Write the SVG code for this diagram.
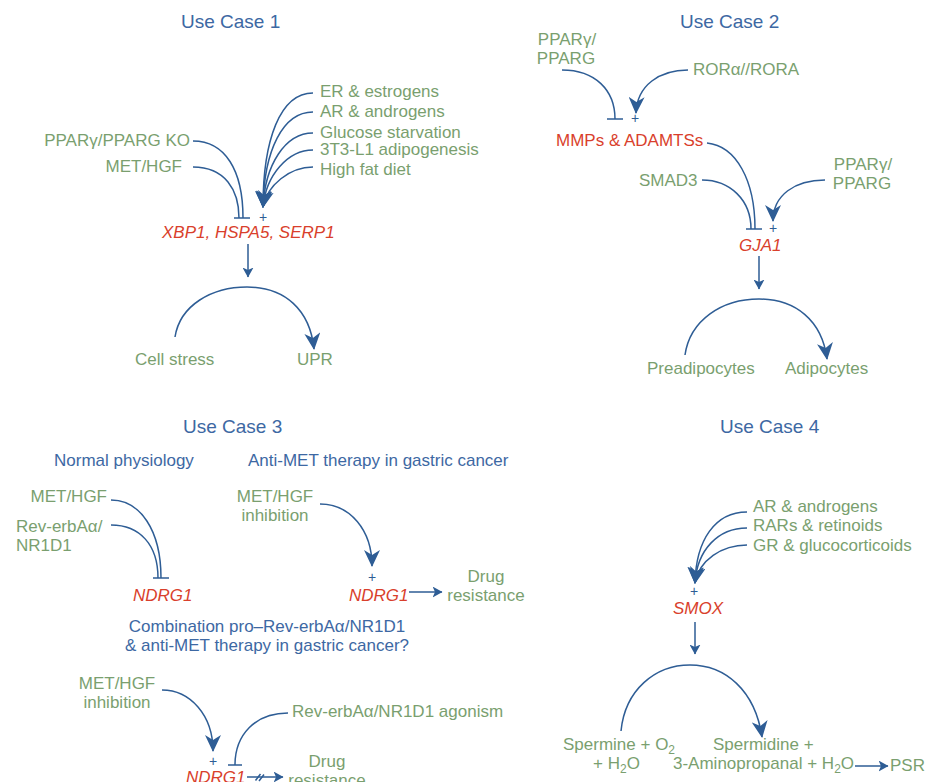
<svg xmlns="http://www.w3.org/2000/svg" width="928" height="782" viewBox="0 0 928 782">
<defs>
<style>
text{font-family:"Liberation Sans",Arial,sans-serif;font-size:17px}
.t{fill:#3d68a3;font-size:19px}
.h{fill:#3d68a3}
.g{fill:#7a9f6f}
.r{fill:#d93f2c}
.i{font-style:italic}
.e{text-anchor:end}
.m{text-anchor:middle}
.p{fill:#2e5d95;font-size:14px;text-anchor:middle}
.c{fill:none;stroke:#2e5d95;stroke-width:1.5}
.big{marker-end:url(#ab)}
.sm{marker-end:url(#as)}
</style>
<marker id="ab" viewBox="0 0 17 16" refX="16" refY="8" markerWidth="17" markerHeight="16" markerUnits="userSpaceOnUse" orient="auto">
<path d="M0,0 L17,8 L0,16 L5,8 Z" fill="#2e5d95"/>
</marker>
<marker id="as" viewBox="0 0 10 11" refX="9.5" refY="5.5" markerWidth="10" markerHeight="11" markerUnits="userSpaceOnUse" orient="auto">
<path d="M0,0 L10,5.5 L0,11 L2.5,5.5 Z" fill="#2e5d95"/>
</marker>
</defs>
<rect width="928" height="782" fill="#ffffff"/>

<g id="titles">
<text class="t" x="181" y="28">Use Case 1</text>
<text class="t" x="680" y="28">Use Case 2</text>
<text class="t" x="183" y="433">Use Case 3</text>
<text class="t" x="720" y="433">Use Case 4</text>
<text class="h" x="54" y="466">Normal physiology</text>
<text class="h" x="248" y="466">Anti-MET therapy in gastric cancer</text>
<text class="h m" x="267" y="632">Combination pro–Rev-erbAα/NR1D1</text>
<text class="h m" x="267" y="651">&amp; anti-MET therapy in gastric cancer?</text>
</g>

<g id="connectors">
<!-- Use case 1 -->
<path class="c big" d="M313,93 C280,93 263,140 263,207"/>
<path class="c big" d="M313,112 C283,112 264,150 263,207"/>
<path class="c big" d="M313,133 C285,133 265,165 263,207"/>
<path class="c big" d="M313,150 C288,150 266,175 263,207"/>
<path class="c big" d="M313,167 C290,167 267,185 263,207"/>
<path class="c" d="M193,141 C225,141 243,170 243,218"/>
<path class="c" d="M193,167 C225,167 239,190 239,218"/>
<path class="c" d="M234,218 L250,218"/>
<text class="p" x="263" y="222">+</text>
<path class="c sm" d="M248,244 L248,277"/>
<path class="c big" d="M175,337 C180,305 212,287 247,287 C285,287 310,310 314,349"/>
<!-- Use case 2 -->
<path class="c" d="M562,70 C595,70 615,90 615,119"/>
<path class="c" d="M607,119 L623,119"/>
<path class="c big" d="M688,70 C660,70 637,85 636,113"/>
<text class="p" x="635" y="123">+</text>
<path class="c" d="M707,143 C736,146 755,180 755,229"/>
<path class="c" d="M702,180 C730,180 751,200 751,229"/>
<path class="c" d="M746,229 L762,229"/>
<path class="c big" d="M825,180 C795,180 773,195 773,221"/>
<text class="p" x="773" y="233">+</text>
<path class="c sm" d="M759,256 L759,289"/>
<path class="c big" d="M685,355 C690,320 722,299 759,299 C795,299 822,320 827,359"/>
<!-- Use case 3 -->
<path class="c" d="M111,500 C140,500 161,530 161,578"/>
<path class="c" d="M111,525 C140,525 158,545 158,578"/>
<path class="c" d="M153,578 L169,578"/>
<path class="c big" d="M320,504 C350,504 372,530 372,566"/>
<text class="p" x="372" y="582">+</text>
<path class="c sm" d="M409,592 L442,592"/>
<path class="c big" d="M162,690 C190,690 213,715 213,751"/>
<text class="p" x="213" y="766">+</text>
<path class="c" d="M288,713 C255,713 235,735 235,765"/>
<path class="c" d="M228,765 L242,765"/>
<path class="c sm" d="M247,777 L283,777"/>
<path class="c" d="M255.5,780.5 L260.5,774 M259,781 L264,774.5" stroke-width="1.2"/>
<!-- Use case 4 -->
<path class="c big" d="M747,512 C715,512 696,540 695,583"/>
<path class="c big" d="M747,528 C718,528 697,550 695,583"/>
<path class="c big" d="M747,545 C722,545 699,560 695,583"/>
<text class="p" x="694" y="596">+</text>
<path class="c sm" d="M695,622 L695,654"/>
<path class="c big" d="M621,731 C625,690 655,665 690,665 C725,665 755,690 762,737"/>
<path class="c sm" d="M855,766 L888,766"/>
</g>

<!-- Use Case 1 nodes -->
<g id="uc1-er"><text class="g" x="320" y="97">ER &amp; estrogens</text></g>
<g id="uc1-ar"><text class="g" x="320" y="117">AR &amp; androgens</text></g>
<g id="uc1-glucose"><text class="g" x="320" y="138">Glucose starvation</text></g>
<g id="uc1-3t3"><text class="g" x="320" y="155">3T3-L1 adipogenesis</text></g>
<g id="uc1-hfd"><text class="g" x="320" y="175">High fat diet</text></g>
<g id="uc1-pparg"><text class="g e" x="190" y="146">PPARγ/PPARG KO</text></g>
<g id="uc1-met"><text class="g e" x="182" y="172">MET/HGF</text></g>
<g id="uc1-genes"><text class="r i" x="162" y="238">XBP1, HSPA5, SERP1</text></g>
<g id="uc1-cellstress"><text class="g" x="135" y="365">Cell stress</text></g>
<g id="uc1-upr"><text class="g" x="297" y="365">UPR</text></g>

<!-- Use Case 2 nodes -->
<g id="uc2-pparg1"><text class="g m" x="567" y="45">PPARγ/</text><text class="g m" x="566" y="64">PPARG</text></g>
<g id="uc2-rora"><text class="g" x="693" y="75">RORα//RORA</text></g>
<g id="uc2-mmps"><text class="r" x="556" y="146">MMPs &amp; ADAMTSs</text></g>
<g id="uc2-smad3"><text class="g" x="639" y="186">SMAD3</text></g>
<g id="uc2-pparg2"><text class="g m" x="863" y="170">PPARγ/</text><text class="g m" x="862" y="189">PPARG</text></g>
<g id="uc2-gja1"><text class="r i" x="739" y="251">GJA1</text></g>
<g id="uc2-pread"><text class="g" x="647" y="374">Preadipocytes</text></g>
<g id="uc2-adip"><text class="g" x="785" y="374">Adipocytes</text></g>

<!-- Use Case 3 nodes -->
<g id="uc3-met"><text class="g e" x="107" y="502">MET/HGF</text></g>
<g id="uc3-reverb"><text class="g" x="16" y="532">Rev-erbAα/</text><text class="g" x="16" y="551">NR1D1</text></g>
<g id="uc3-ndrg1a"><text class="r i" x="133" y="601">NDRG1</text></g>
<g id="uc3-metinh"><text class="g m" x="275" y="502">MET/HGF</text><text class="g m" x="275" y="521">inhibition</text></g>
<g id="uc3-ndrg1b"><text class="r i" x="349" y="601">NDRG1</text></g>
<g id="uc3-drug1"><text class="g m" x="486" y="582">Drug</text><text class="g m" x="486" y="601">resistance</text></g>
<g id="uc3-metinh2"><text class="g m" x="117" y="689">MET/HGF</text><text class="g m" x="117" y="708">inhibition</text></g>
<g id="uc3-agonism"><text class="g" x="292" y="717">Rev-erbAα/NR1D1 agonism</text></g>
<g id="uc3-ndrg1c"><text class="r i" x="186" y="783">NDRG1</text></g>
<g id="uc3-drug2"><text class="g m" x="327" y="767">Drug</text><text class="g m" x="327" y="786">resistance</text></g>

<!-- Use Case 4 nodes -->
<g id="uc4-ar"><text class="g" x="753" y="512">AR &amp; androgens</text></g>
<g id="uc4-rar"><text class="g" x="753" y="531">RARs &amp; retinoids</text></g>
<g id="uc4-gr"><text class="g" x="753" y="551">GR &amp; glucocorticoids</text></g>
<g id="uc4-smox"><text class="r i" x="673" y="614">SMOX</text></g>
<g id="uc4-spermine"><text class="g" x="563" y="750">Spermine + O<tspan font-size="12" dy="4">2</tspan></text><text class="g" x="593" y="769">+ H<tspan font-size="12" dy="4">2</tspan><tspan dy="-4">O</tspan></text></g>
<g id="uc4-spermidine"><text class="g" x="713" y="750">Spermidine +</text><text class="g" x="673" y="769">3-Aminopropanal + H<tspan font-size="12" dy="4">2</tspan><tspan dy="-4">O</tspan></text></g>
<g id="uc4-psr"><text class="g" x="890" y="771">PSR</text></g>
</svg>
